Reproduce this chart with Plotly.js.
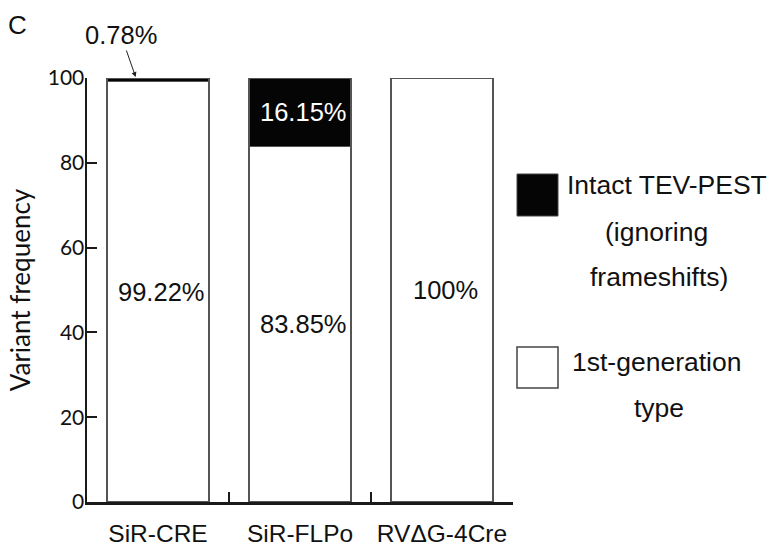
<!DOCTYPE html>
<html>
<head>
<meta charset="utf-8">
<script src="https://cdn.plot.ly/plotly-3.0.1.min.js"></script>
<style>html,body{margin:0;padding:0;background:#fff;}#chart{width:775px;height:550px;}</style>
</head>
<body>
<div id="chart"></div>
<script>
const categories = ["SiR-CRE", "SiR-FLPo", "RV\u0394G-4Cre"];
const firstGenValues = [99.22, 83.85, 100];
const intactValues = [0.78, 16.15, 0];
const firstGenName = "1st-generation type";
const intactName = "Intact TEV-PEST (ignoring frameshifts)";
const yTicks = [0, 20, 40, 60, 80, 100];

const fontMain = "Liberation Sans, Arial, sans-serif";
const fontAxis = "Lato, Liberation Sans, sans-serif";
const lineCol = "#1a1a1a";
const barEdge = "#555555";

const traces = [
  {
    type: "bar", name: firstGenName, x: categories, y: firstGenValues,
    width: 0.72, marker: {color: "#ffffff", line: {color: barEdge, width: 1.5}},
    hoverinfo: "x+y+name"
  },
  {
    type: "bar", name: intactName, x: categories, y: intactValues,
    width: 0.72, marker: {color: "#050505", line: {color: barEdge, width: 1.5}},
    hoverinfo: "x+y+name"
  }
];

const fmt = v => (Math.round(v * 100) / 100) + "%";
const labelSize = 25.5;
const annotations = [];
categories.forEach((c, i) => {
  annotations.push({
    x: c, y: firstGenValues[i] / 2, xref: "x", yref: "y", text: fmt(firstGenValues[i]),
    showarrow: false, xshift: 3, font: {family: fontMain, size: labelSize, color: "#111"}
  });
  const v = intactValues[i];
  if (v >= 5) {
    annotations.push({
      x: c, y: firstGenValues[i] + v / 2, xref: "x", yref: "y", text: fmt(v),
      showarrow: false, xshift: 3, font: {family: fontMain, size: labelSize, color: "#ffffff"}
    });
  } else if (v > 0) {
    annotations.push({
      x: c, y: firstGenValues[i] + v, xref: "x", yref: "y", text: fmt(v),
      showarrow: true, arrowhead: 2, arrowsize: 1, arrowwidth: 1, arrowcolor: "#222",
      xshift: -22, ax: -15, ay: -43, standoff: 1,
      font: {family: fontMain, size: labelSize, color: "#111"}
    });
  }
});

// panel letter
annotations.push({xref: "paper", yref: "paper", x: -0.19, y: 1.125, xanchor: "left", yanchor: "middle",
  text: "C", showarrow: false, font: {family: fontMain, size: 26, color: "#111"}});

// custom legend (paper coords: x = (px-87)/426, y = (502-py)/424)
const px = p => (p - 87) / 426;
const py = p => (502 - p) / 424;
const legendLines = [
  {t: "Intact TEV-PEST", x: 667, y: 185},
  {t: "(ignoring", x: 656, y: 232},
  {t: "frameshifts)", x: 659, y: 277},
  {t: "1st-generation", x: 656, y: 362},
  {t: "type", x: 659, y: 408}
];
legendLines.forEach(l => annotations.push({
  xref: "paper", yref: "paper", x: px(l.x), y: py(l.y), xanchor: "center", yanchor: "middle",
  text: l.t, showarrow: false, font: {family: fontMain, size: 26.5, color: "#111"}
}));

const shapes = [
  {type: "rect", xref: "paper", yref: "paper", x0: px(517), x1: px(558), y0: py(216), y1: py(174),
   fillcolor: "#050505", line: {color: "#444", width: 1}},
  {type: "rect", xref: "paper", yref: "paper", x0: px(517), x1: px(558), y0: py(388), y1: py(347),
   fillcolor: "#ffffff", line: {color: "#444", width: 1.5}}
];

const layout = {
  width: 775, height: 550,
  margin: {l: 87, r: 262, t: 78, b: 48, pad: 0},
  paper_bgcolor: "#ffffff", plot_bgcolor: "#ffffff",
  barmode: "stack", showlegend: false,
  xaxis: {
    type: "category", range: [-0.5, 2.5], showgrid: false, zeroline: false,
    showline: true, linecolor: lineCol, linewidth: 2.5,
    ticks: "inside", tickson: "boundaries", ticklen: 10, tickwidth: 2, tickcolor: lineCol,
    tickangle: 0, ticklabelstandoff: 8, automargin: false,
    tickfont: {family: fontMain, size: 24.5, color: "#111"}, fixedrange: true
  },
  yaxis: {
    range: [0, 100], tickvals: yTicks, showgrid: false, zeroline: false,
    showline: true, linecolor: lineCol, linewidth: 2.5,
    ticks: "inside", ticklen: 10, tickwidth: 2, tickcolor: lineCol,
    ticklabelstandoff: -4,
    tickfont: {family: fontAxis, size: 21, color: "#111"},
    title: {text: "Variant frequency", standoff: 10, font: {family: fontAxis, size: 26, color: "#111"}},
    automargin: false, fixedrange: true
  },
  annotations: annotations,
  shapes: shapes
};

Plotly.newPlot("chart", traces, layout, {displayModeBar: false, staticPlot: true});
</script>
</body>
</html>
